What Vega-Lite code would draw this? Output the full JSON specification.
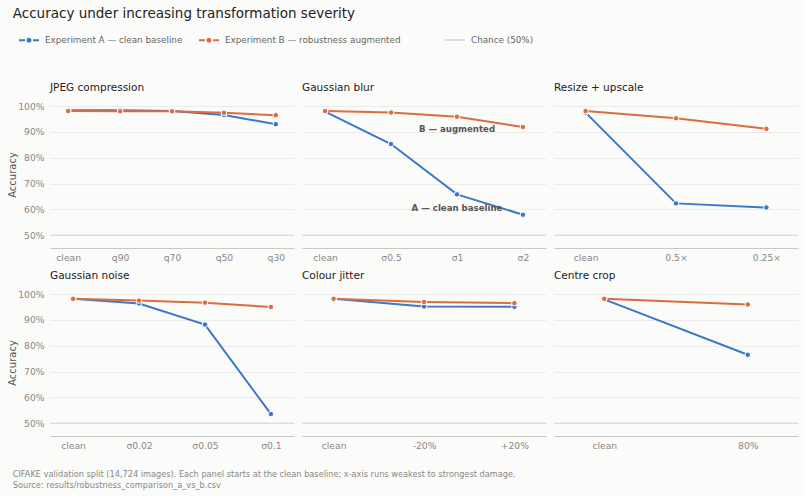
{
  "$schema": "https://vega.github.io/schema/vega-lite/v6.json",
  "background": "#fbfbf9",
  "padding": {"left": 7, "top": 6, "right": 6, "bottom": 6},
  "title": {
    "text": "Accuracy under increasing transformation severity",
    "anchor": "start",
    "frame": "bounds",
    "font": "DejaVu Sans",
    "fontSize": 13.5,
    "fontWeight": "normal",
    "color": "#222222",
    "offset": 9,
    "dx": 5
  },
  "config": {
    "font": "DejaVu Sans",
    "view": {"stroke": null},
    "axis": {
      "labelFont": "DejaVu Sans",
      "titleFont": "DejaVu Sans",
      "labelColor": "#888888",
      "labelFontSize": 9.2,
      "ticks": false
    },
    "header": {
      "labelFont": "DejaVu Sans",
      "labelFontSize": 10.5,
      "labelColor": "#222222",
      "labelAnchor": "start",
      "labelAlign": "left",
      "labelPadding": 8
    },
    "legend": {
      "labelFont": "DejaVu Sans",
      "labelFontSize": 8.8,
      "labelColor": "#666666",
      "labelLimit": 400,
      "orient": "none",
      "direction": "horizontal",
      "columnPadding": 12,
      "labelOffset": 5
    }
  },
  "vconcat": [
    {
      "title": {
        "text": [
          "CIFAKE validation split (14,724 images). Each panel starts at the clean baseline; x-axis runs weakest to strongest damage.",
          "Source: results/robustness_comparison_a_vs_b.csv"
        ],
        "orient": "bottom",
        "anchor": "start",
        "frame": "bounds",
        "fontSize": 8.2,
        "fontWeight": "normal",
        "color": "#888888",
        "lineHeight": 11,
        "offset": 21,
        "dx": 5
      },
      "data": {
        "values": [
          {"panel": "JPEG compression", "level": "clean", "series": "Experiment A — clean baseline", "acc": 0.984, "kind": "acc"},
          {"panel": "JPEG compression", "level": "q90", "series": "Experiment A — clean baseline", "acc": 0.984, "kind": "acc"},
          {"panel": "JPEG compression", "level": "q70", "series": "Experiment A — clean baseline", "acc": 0.981, "kind": "acc"},
          {"panel": "JPEG compression", "level": "q50", "series": "Experiment A — clean baseline", "acc": 0.966, "kind": "acc"},
          {"panel": "JPEG compression", "level": "q30", "series": "Experiment A — clean baseline", "acc": 0.930, "kind": "acc"},
          {"panel": "JPEG compression", "level": "clean", "series": "Experiment B — robustness augmented", "acc": 0.981, "kind": "acc"},
          {"panel": "JPEG compression", "level": "q90", "series": "Experiment B — robustness augmented", "acc": 0.980, "kind": "acc"},
          {"panel": "JPEG compression", "level": "q70", "series": "Experiment B — robustness augmented", "acc": 0.980, "kind": "acc"},
          {"panel": "JPEG compression", "level": "q50", "series": "Experiment B — robustness augmented", "acc": 0.974, "kind": "acc"},
          {"panel": "JPEG compression", "level": "q30", "series": "Experiment B — robustness augmented", "acc": 0.965, "kind": "acc"},

          {"panel": "Gaussian blur", "level": "clean", "series": "Experiment A — clean baseline", "acc": 0.979, "kind": "acc"},
          {"panel": "Gaussian blur", "level": "σ0.5", "series": "Experiment A — clean baseline", "acc": 0.853, "kind": "acc"},
          {"panel": "Gaussian blur", "level": "σ1", "series": "Experiment A — clean baseline", "acc": 0.658, "kind": "acc"},
          {"panel": "Gaussian blur", "level": "σ2", "series": "Experiment A — clean baseline", "acc": 0.579, "kind": "acc"},
          {"panel": "Gaussian blur", "level": "clean", "series": "Experiment B — robustness augmented", "acc": 0.981, "kind": "acc"},
          {"panel": "Gaussian blur", "level": "σ0.5", "series": "Experiment B — robustness augmented", "acc": 0.975, "kind": "acc"},
          {"panel": "Gaussian blur", "level": "σ1", "series": "Experiment B — robustness augmented", "acc": 0.959, "kind": "acc"},
          {"panel": "Gaussian blur", "level": "σ2", "series": "Experiment B — robustness augmented", "acc": 0.919, "kind": "acc"},
          {"panel": "Gaussian blur", "level": "σ1", "note": "B — augmented", "acc": 0.911, "kind": "note"},
          {"panel": "Gaussian blur", "level": "σ1", "note": "A — clean baseline", "acc": 0.605, "kind": "note"},

          {"panel": "Resize + upscale", "level": "clean", "series": "Experiment A — clean baseline", "acc": 0.975, "kind": "acc"},
          {"panel": "Resize + upscale", "level": "0.5×", "series": "Experiment A — clean baseline", "acc": 0.623, "kind": "acc"},
          {"panel": "Resize + upscale", "level": "0.25×", "series": "Experiment A — clean baseline", "acc": 0.607, "kind": "acc"},
          {"panel": "Resize + upscale", "level": "clean", "series": "Experiment B — robustness augmented", "acc": 0.981, "kind": "acc"},
          {"panel": "Resize + upscale", "level": "0.5×", "series": "Experiment B — robustness augmented", "acc": 0.953, "kind": "acc"},
          {"panel": "Resize + upscale", "level": "0.25×", "series": "Experiment B — robustness augmented", "acc": 0.912, "kind": "acc"},

          {"panel": "Gaussian noise", "level": "clean", "series": "Experiment A — clean baseline", "acc": 0.982, "kind": "acc"},
          {"panel": "Gaussian noise", "level": "σ0.02", "series": "Experiment A — clean baseline", "acc": 0.964, "kind": "acc"},
          {"panel": "Gaussian noise", "level": "σ0.05", "series": "Experiment A — clean baseline", "acc": 0.882, "kind": "acc"},
          {"panel": "Gaussian noise", "level": "σ0.1", "series": "Experiment A — clean baseline", "acc": 0.535, "kind": "acc"},
          {"panel": "Gaussian noise", "level": "clean", "series": "Experiment B — robustness augmented", "acc": 0.982, "kind": "acc"},
          {"panel": "Gaussian noise", "level": "σ0.02", "series": "Experiment B — robustness augmented", "acc": 0.975, "kind": "acc"},
          {"panel": "Gaussian noise", "level": "σ0.05", "series": "Experiment B — robustness augmented", "acc": 0.967, "kind": "acc"},
          {"panel": "Gaussian noise", "level": "σ0.1", "series": "Experiment B — robustness augmented", "acc": 0.950, "kind": "acc"},

          {"panel": "Colour jitter", "level": "clean", "series": "Experiment A — clean baseline", "acc": 0.982, "kind": "acc"},
          {"panel": "Colour jitter", "level": "-20%", "series": "Experiment A — clean baseline", "acc": 0.952, "kind": "acc"},
          {"panel": "Colour jitter", "level": "+20%", "series": "Experiment A — clean baseline", "acc": 0.951, "kind": "acc"},
          {"panel": "Colour jitter", "level": "clean", "series": "Experiment B — robustness augmented", "acc": 0.982, "kind": "acc"},
          {"panel": "Colour jitter", "level": "-20%", "series": "Experiment B — robustness augmented", "acc": 0.970, "kind": "acc"},
          {"panel": "Colour jitter", "level": "+20%", "series": "Experiment B — robustness augmented", "acc": 0.965, "kind": "acc"},

          {"panel": "Centre crop", "level": "clean", "series": "Experiment A — clean baseline", "acc": 0.980, "kind": "acc"},
          {"panel": "Centre crop", "level": "80%", "series": "Experiment A — clean baseline", "acc": 0.765, "kind": "acc"},
          {"panel": "Centre crop", "level": "clean", "series": "Experiment B — robustness augmented", "acc": 0.982, "kind": "acc"},
          {"panel": "Centre crop", "level": "80%", "series": "Experiment B — robustness augmented", "acc": 0.960, "kind": "acc"}
        ]
      },
      "facet": {
        "field": "panel",
        "type": "nominal",
        "sort": ["JPEG compression", "Gaussian blur", "Resize + upscale", "Gaussian noise", "Colour jitter", "Centre crop"],
        "header": {"title": null}
      },
      "columns": 3,
      "spacing": {"row": 7, "column": 6},
      "resolve": {"scale": {"x": "independent"}},
      "spec": {
        "width": 244,
        "height": 147,
        "encoding": {
          "x": {
            "field": "level",
            "type": "nominal",
            "sort": ["clean", "q90", "q70", "q50", "q30", "σ0.5", "σ1", "σ2", "0.5×", "0.25×", "σ0.02", "σ0.05", "σ0.1", "-20%", "+20%", "80%"],
            "scale": {"type": "point", "padding": 0.35},
            "axis": {"title": null, "labelAngle": 0, "domainColor": "#c8c8c8", "labelPadding": 5, "grid": false}
          },
          "y": {
            "field": "acc",
            "type": "quantitative",
            "scale": {"domain": [0.45, 1.02], "nice": false, "zero": false},
            "axis": {
              "title": "Accuracy",
              "titleColor": "#555555",
              "titleFontSize": 10,
              "titleFontWeight": "normal",
              "titlePadding": 0,
              "values": [0.5, 0.6, 0.7, 0.8, 0.9, 1.0],
              "format": ".0%",
              "domain": false,
              "gridColor": "#ebebeb",
              "labelPadding": 5
            }
          }
        },
        "layer": [
          {
            "transform": [{"filter": "datum.level == 'clean' && datum.series == 'Experiment A — clean baseline'"}],
            "mark": {"type": "rule", "strokeWidth": 1},
            "encoding": {
              "x": null,
              "y": {"datum": 0.5},
              "stroke": {
                "datum": "Chance (50%)",
                "scale": {"range": ["#d4d4d4"]},
                "legend": {"title": null, "symbolType": "stroke", "symbolSize": 400, "symbolStrokeWidth": 1.5, "legendX": 394, "legendY": -72}
              }
            }
          },
          {
            "transform": [{"filter": "datum.kind == 'acc'"}],
            "mark": {"type": "line", "strokeWidth": 2},
            "encoding": {
              "color": {
                "field": "series",
                "type": "nominal",
                "scale": {"domain": ["Experiment A — clean baseline", "Experiment B — robustness augmented"], "range": ["#3a78c9", "#dd6b42"]},
                "legend": {
                  "title": null,
                  "symbolType": "M-1,0H-0.4M0.4,0H1M0.15,0A0.15,0.15,0,1,1,-0.15,0A0.15,0.15,0,1,1,0.15,0",
                  "symbolSize": 400,
                  "symbolStrokeWidth": 2,
                  "legendX": -32,
                  "legendY": -72
                }
              }
            }
          },
          {
            "transform": [{"filter": "datum.kind == 'acc'"}],
            "mark": {"type": "point", "filled": true, "size": 30, "stroke": "#ffffff", "strokeWidth": 1, "opacity": 1},
            "encoding": {
              "color": {"field": "series", "type": "nominal"}
            }
          },
          {
            "transform": [{"filter": "datum.kind == 'note'"}],
            "mark": {"type": "text", "fontWeight": "bold", "fontSize": 8.6, "color": "#555555", "align": "center", "baseline": "middle"},
            "encoding": {
              "text": {"field": "note"}
            }
          }
        ]
      }
    }
  ]
}
